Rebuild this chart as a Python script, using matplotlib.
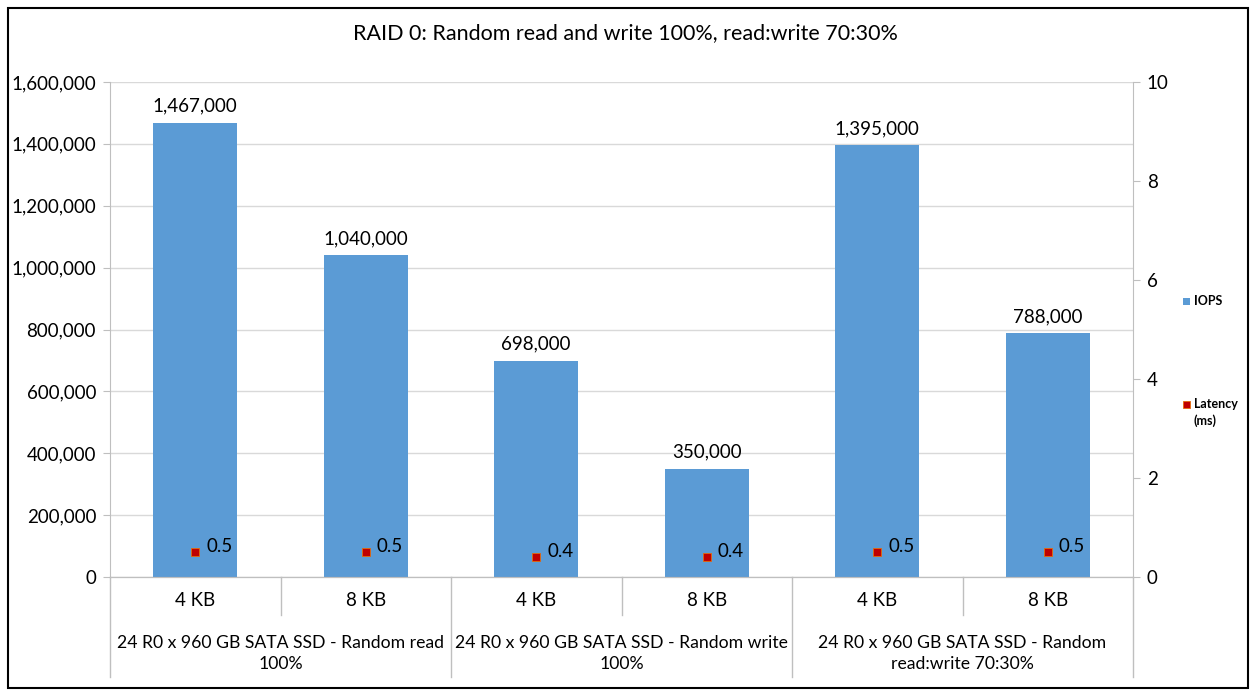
import matplotlib.pyplot as plt
import matplotlib.transforms as mtransforms
from matplotlib.patches import Rectangle

# data
sizes = ["4 KB", "8 KB", "4 KB", "8 KB", "4 KB", "8 KB"]
groups = ["24 R0 x 960 GB SATA SSD - Random read\n100%",
          "24 R0 x 960 GB SATA SSD - Random write\n100%",
          "24 R0 x 960 GB SATA SSD - Random\nread:write 70:30%"]
iops = [1467000, 1040000, 698000, 350000, 1395000, 788000]
latency = [0.5, 0.5, 0.4, 0.4, 0.5, 0.5]
series_names = ["IOPS", "Latency\n(ms)"]

BAR_COLOR = "#5B9BD5"
MARK_COLOR = "#C00000"
MARK_EDGE = "#E46C0A"
GRID_COLOR = "#D9D9D9"
AXIS_COLOR = "#BFBFBF"

plt.rcParams['font.family'] = ['Lato', 'DejaVu Sans']

fig = plt.figure(figsize=(12.5, 6.9), dpi=100)
ax1 = fig.add_axes([110 / 1250, 1 - 577 / 690, 1023 / 1250, 495 / 690])
ax2 = ax1.twinx()

x = list(range(len(iops)))
ax1.bar(x, iops, width=0.49, color=BAR_COLOR, zorder=2)
ax1.set_xlim(-0.5, len(iops) - 0.5)
ax1.set_ylim(0, 1600000)
ax1.set_yticks(range(0, 1600001, 200000))
ax1.set_yticklabels([f"{v:,}" for v in range(0, 1600001, 200000)])
ax1.grid(axis='y', color=GRID_COLOR, linewidth=1, zorder=0)
ax1.set_axisbelow(True)
ax1.set_xticks([])

for xi, v in zip(x, iops):
    ax1.annotate(f"{v:,}", (xi, v), xytext=(0, 6), textcoords='offset points',
                 ha='center', va='bottom', fontsize=13.5)

# latency on the secondary axis
ax2.plot(x, latency, linestyle='none', marker='s', markersize=6,
         markerfacecolor=MARK_COLOR, markeredgecolor=MARK_EDGE,
         markeredgewidth=0.6, zorder=3)
ax2.set_ylim(0, 10)
ax2.set_yticks(range(0, 11, 2))
for xi, v in zip(x, latency):
    ax2.annotate(f"{v}", (xi, v), xytext=(8, 4), textcoords='offset points',
                 ha='left', va='center', fontsize=13.5)

for a in (ax1, ax2):
    for s in a.spines.values():
        s.set_color(AXIS_COLOR)
    a.spines['top'].set_visible(False)
    a.tick_params(axis='y', length=5, color=AXIS_COLOR, labelsize=13.5, pad=5)
ax1.spines['right'].set_visible(False)
ax2.spines['left'].set_visible(False)
ax1.spines['bottom'].set_color("#A6A6A6")

# two-level category axis
trans = mtransforms.blended_transform_factory(ax1.transData, ax1.transAxes)
for xi, s in zip(x, sizes):
    ax1.text(xi, -0.048, s, transform=trans, ha='center', va='center', fontsize=13.5)
for gi, g in enumerate(groups):
    ax1.text(2 * gi + 0.5, -0.155, g, transform=trans, ha='center', va='center',
             fontsize=12.7, linespacing=1.35)
for b in [-0.5, 1.5, 3.5, 5.5]:
    ax1.plot([b, b], [0, -0.202], transform=trans, color=AXIS_COLOR,
             linewidth=1, clip_on=False)
for b in [0.5, 2.5, 4.5]:
    ax1.plot([b, b], [0, -0.077], transform=trans, color=AXIS_COLOR,
             linewidth=1, clip_on=False)

fig.text(0.5, 1 - 33 / 690, "RAID 0: Random read and write 100%, read:write 70:30%",
         ha='center', va='center', fontsize=15.5)

# legend (drawn by hand, entries sit far apart)
legend_y = [1 - 301 / 690, 1 - 404 / 690]
legend_colors = [(BAR_COLOR, 'none'), (MARK_COLOR, MARK_EDGE)]
for name, ly, (fc, ec) in zip(series_names, legend_y, legend_colors):
    fig.add_artist(Rectangle((1183 / 1250, ly - 3.5 / 690), 7 / 1250, 7 / 690,
                             transform=fig.transFigure, facecolor=fc,
                             edgecolor=ec, linewidth=0.6))
    fig.text(1194 / 1250, ly + 6 / 690, name, ha='left', va='top',
             fontsize=9, fontweight='bold', linespacing=1.45)

# chart border
fig.add_artist(Rectangle((8 / 1250, 2 / 690), 1240 / 1250, 680 / 690,
                         transform=fig.transFigure, fill=False,
                         edgecolor='black', linewidth=1.5))

plt.savefig("out.png", dpi=100)
plt.close()
